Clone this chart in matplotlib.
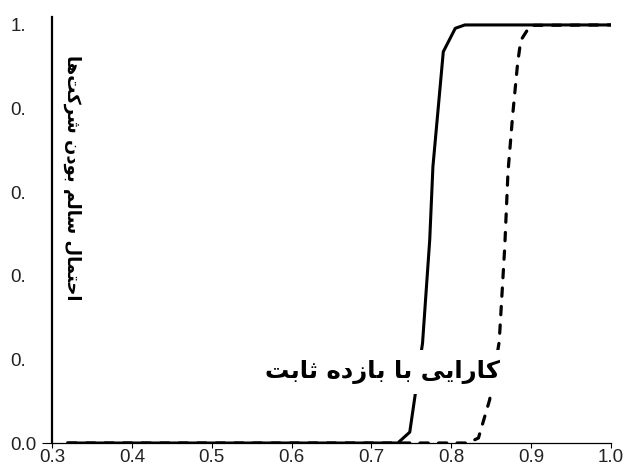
import matplotlib
matplotlib.use("Agg")
import matplotlib.pyplot as plt

# data
x_solid = [0.32, 0.733, 0.748, 0.754, 0.764, 0.773, 0.777, 0.790, 0.805, 0.817, 1.0]
y_solid = [0.0, 0.0, 0.026, 0.105, 0.239, 0.486, 0.661, 0.936, 0.992, 1.0, 1.0]

x_dash = [0.32, 0.733, 0.821, 0.834, 0.848, 0.860, 0.867, 0.871, 0.877, 0.883, 0.887, 0.899, 1.0]
y_dash = [0.0, 0.0, 0.0, 0.012, 0.103, 0.242, 0.471, 0.648, 0.787, 0.907, 0.963, 0.999, 1.0]

x_ticks = [0.3, 0.4, 0.5, 0.6, 0.7, 0.8, 0.9, 1.0]
x_ticklabels = ["0.3", "0.4", "0.5", "0.6", "0.7", "0.8", "0.9", "1.0"]
y_ticks = [0.0, 0.2, 0.4, 0.6, 0.8, 1.0]
y_ticklabels = ["0.0", "0.", "0.", "0.", "0.", "1."]

x_title = "کارایی با بازده ثابت"
y_title = "احتمال سالم بودن شرکت‌ها"


# matplotlib has no arabic shaping, so do it by hand with presentation forms
FORMS = {
    # isolated, final, initial, medial
    "ا": ("\uFE8D", "\uFE8E", None, None),
    "ب": ("\uFE8F", "\uFE90", "\uFE91", "\uFE92"),
    "ت": ("\uFE95", "\uFE96", "\uFE97", "\uFE98"),
    "ث": ("\uFE99", "\uFE9A", "\uFE9B", "\uFE9C"),
    "ح": ("\uFEA1", "\uFEA2", "\uFEA3", "\uFEA4"),
    "د": ("\uFEA9", "\uFEAA", None, None),
    "ر": ("\uFEAD", "\uFEAE", None, None),
    "ز": ("\uFEAF", "\uFEB0", None, None),
    "س": ("\uFEB1", "\uFEB2", "\uFEB3", "\uFEB4"),
    "ش": ("\uFEB5", "\uFEB6", "\uFEB7", "\uFEB8"),
    "ل": ("\uFEDD", "\uFEDE", "\uFEDF", "\uFEE0"),
    "م": ("\uFEE1", "\uFEE2", "\uFEE3", "\uFEE4"),
    "ن": ("\uFEE5", "\uFEE6", "\uFEE7", "\uFEE8"),
    "ه": ("\uFEE9", "\uFEEA", "\uFEEB", "\uFEEC"),
    "و": ("\uFEED", "\uFEEE", None, None),
    "ک": ("\uFB8E", "\uFB8F", "\uFB90", "\uFB91"),
    "ی": ("\uFBFC", "\uFBFD", "\uFBFE", "\uFBFF"),
}


def shape(text):
    chars = list(text)
    out = []
    for i, c in enumerate(chars):
        if c not in FORMS:
            if c != "\u200c":
                out.append(c)
            continue
        prev = chars[i - 1] if i > 0 else None
        nxt = chars[i + 1] if i + 1 < len(chars) else None
        join_prev = prev in FORMS and FORMS[prev][2] is not None
        join_next = FORMS[c][2] is not None and nxt in FORMS
        iso, fin, ini, med = FORMS[c]
        if join_prev and join_next:
            out.append(med)
        elif join_prev:
            out.append(fin)
        elif join_next:
            out.append(ini)
        else:
            out.append(iso)
    return "".join(out[::-1])


plt.rcParams["font.family"] = ["Liberation Sans", "DejaVu Sans"]

W, H = 627, 472
fig = plt.figure(figsize=(W / 100, H / 100), dpi=100)
ax = fig.add_axes([52 / W, 1 - 443 / H, (611 - 52) / W, (443 - 17) / H])

ax.plot(x_dash, y_dash, color="black", lw=2.3, dashes=(2.6, 3.2),
        dash_capstyle="round", solid_capstyle="round")
ax.plot(x_solid, y_solid, color="black", lw=2.2, solid_joinstyle="round")

ax.set_xlim(0.3, 1.0)
ax.set_ylim(0.0, 1.019)

for s in ["top", "right"]:
    ax.spines[s].set_visible(False)
ax.spines["left"].set_linewidth(1.6)
ax.spines["bottom"].set_linewidth(0.9)

ax.set_xticks(x_ticks)
ax.set_xticklabels(x_ticklabels, fontsize=13.5, color="#222222")
ax.tick_params(axis="x", direction="out", length=3.6, width=0.8, pad=0.5)

ax.set_yticks(y_ticks)
ax.set_yticklabels(y_ticklabels, fontsize=13.5, color="#222222", ha="left")
ax.tick_params(axis="y", direction="out", length=7, width=0.8, pad=23)
for i, t in enumerate(ax.yaxis.get_major_ticks()):
    if i > 0:
        t.tick1line.set_visible(False)

ax.text(0.591, 0.167, shape(x_title), transform=ax.transAxes,
        family=["DejaVu Sans"], fontweight="bold", fontsize=17.5,
        ha="center", va="center",
        bbox=dict(facecolor="white", edgecolor="none", pad=7))

fig.text(72 / W, 1 - 178 / H, shape(y_title), rotation=270,
         family=["DejaVu Sans"], fontweight="bold", fontsize=13,
         ha="center", va="center")

fig.savefig("out.png", dpi=100)
